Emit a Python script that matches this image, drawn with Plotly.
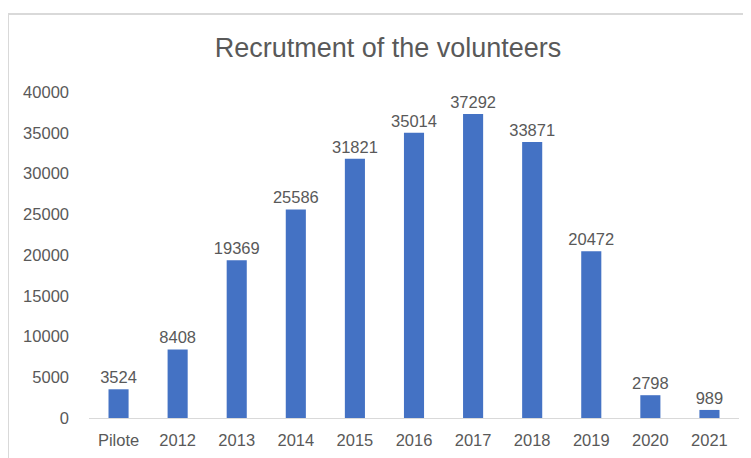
import plotly.graph_objects as go

categories = ["Pilote", "2012", "2013", "2014", "2015", "2016", "2017", "2018", "2019", "2020", "2021"]
volunteers = [3524, 8408, 19369, 25586, 31821, 35014, 37292, 33871, 20472, 2798, 989]
y_ticks = [0, 5000, 10000, 15000, 20000, 25000, 30000, 35000, 40000]

FONT = "Liberation Sans"
TXT = "#595959"

fig = go.Figure(go.Bar(
    x=categories,
    y=volunteers,
    text=[str(v) for v in volunteers],
    textposition="outside",
    constraintext="none",
    textfont=dict(family=FONT, size=16.5, color=TXT),
    marker=dict(color="#4472C4", line=dict(width=0)),
    cliponaxis=False,
))

# page body adds an 8px offset; compensate
OFF = 8
W, H = 751, 458
L, R, T, B = 89 - OFF, W - (739 - OFF), 92 - OFF, H - (418 - OFF)
pw = W - L - R
ph = H - T - B
fx = lambda px: (px - OFF - L) / pw
fy = lambda py: (H - B - (py - OFF)) / ph

fig.update_layout(
    width=W, height=H,
    margin=dict(l=L, r=R, t=T, b=B, autoexpand=False),
    paper_bgcolor="white", plot_bgcolor="white",
    bargap=0.66,
    showlegend=False,
    title=dict(text="Recrutment of the volunteers", x=(388 - OFF) / W, xanchor="center",
               y=1 - (48 - OFF) / H, yanchor="middle",
               font=dict(family=FONT, size=27, color=TXT)),
    xaxis=dict(showline=True, linecolor="#d9d9d9", linewidth=1, ticks="",
               ticklabelstandoff=7,
               tickfont=dict(family=FONT, size=16.5, color=TXT), showgrid=False),
    yaxis=dict(range=[0, 40000], tickvals=y_ticks, tickformat="d", showline=False,
               showgrid=False, zeroline=False, ticks="", ticklabelstandoff=19,
               tickfont=dict(family=FONT, size=16.5, color=TXT)),
    shapes=[
        dict(type="line", xref="paper", yref="paper", x0=fx(8), x1=fx(770), y0=fy(14), y1=fy(14),
             line=dict(color="#d9d9d9", width=2)),
        dict(type="line", xref="paper", yref="paper", x0=fx(8), x1=fx(8), y0=fy(14), y1=fy(480),
             line=dict(color="#d9d9d9", width=2)),
    ],
)

fig.write_html("out.html")
